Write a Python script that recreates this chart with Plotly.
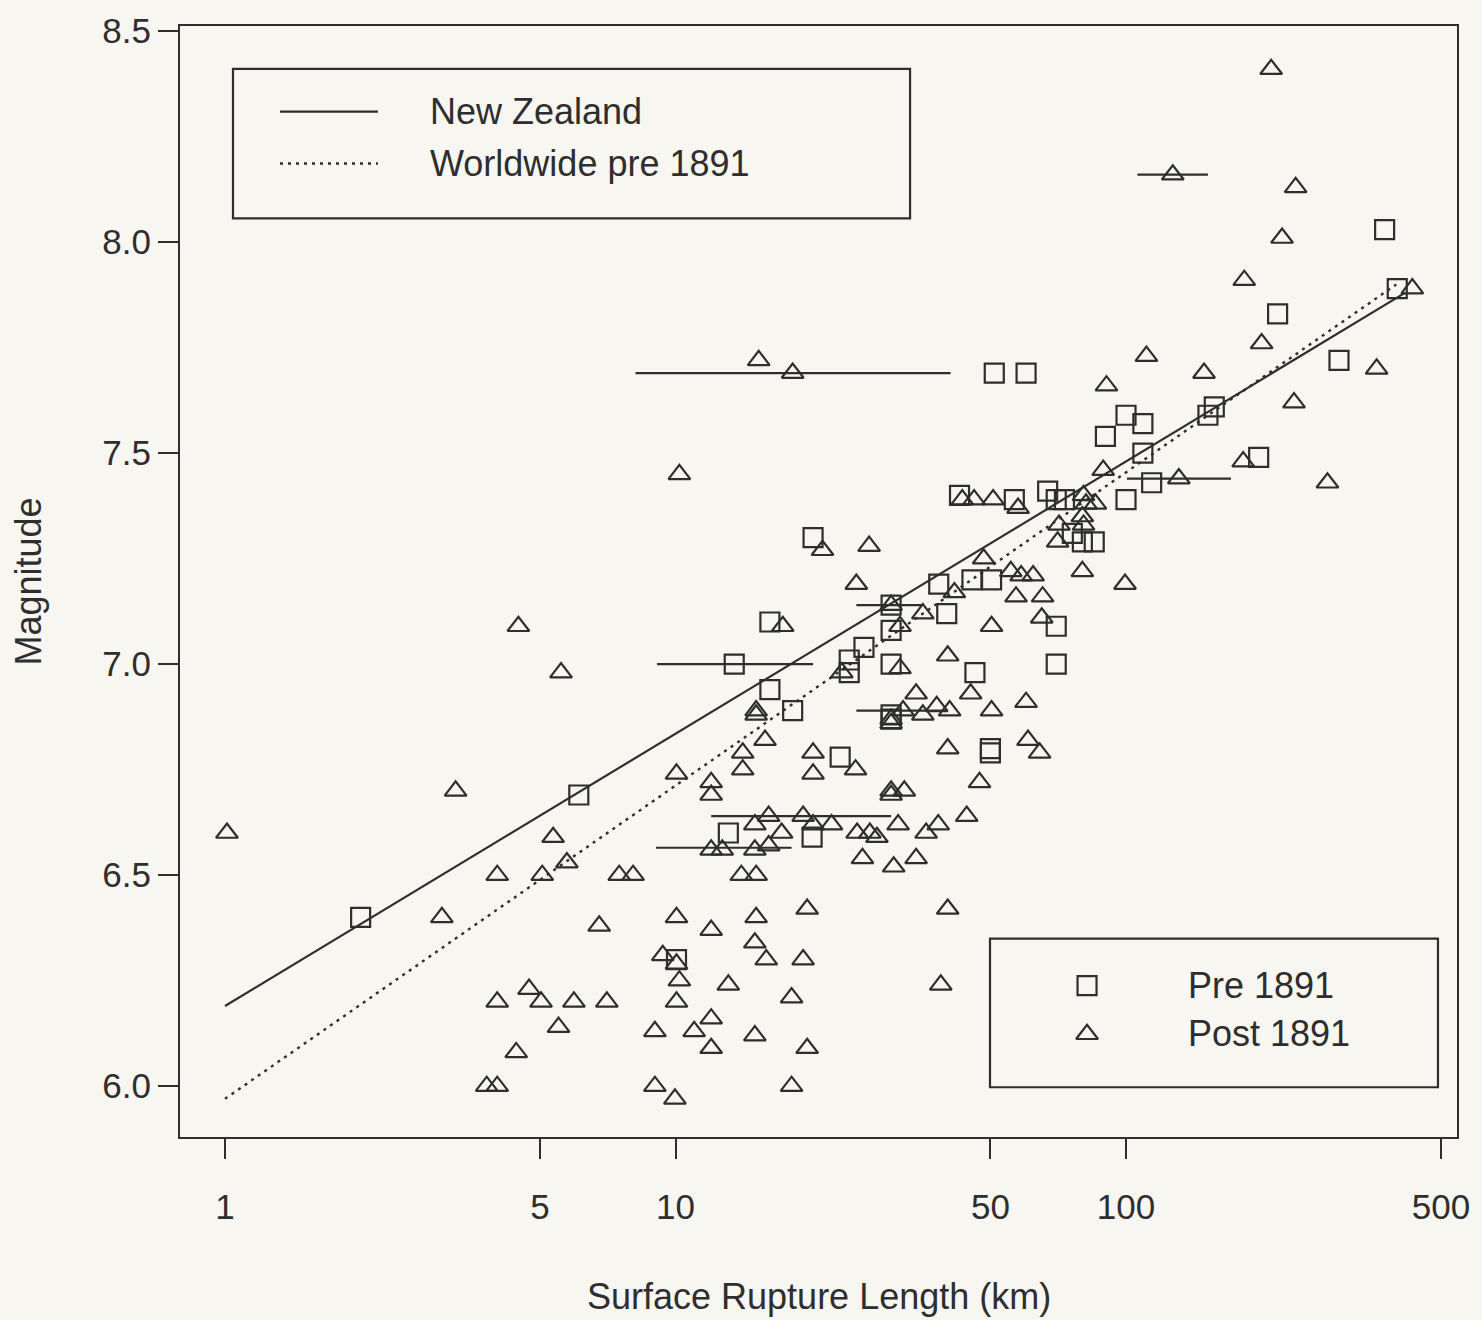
import plotly.graph_objects as go

# ---------------- data ----------------
# Pre 1891 events (squares): surface rupture length (km), magnitude
pre_length = [2.0, 6.1, 13.5, 13.1, 16.2, 16.2, 18.2, 20.2, 20.1, 23.2,
              24.3, 24.3, 26.2, 30.1, 30.1, 30.1, 30.1, 30.1, 38.4, 40.0,
              42.7, 45.5, 50.3, 46.2, 50.0, 50.0, 51.0, 60.0, 56.5, 67.0,
              70.0, 73.0, 76.0, 80.0, 85.0, 70.0, 70.0, 90.0, 100.0, 109.0,
              109.0, 100.0, 114.0, 152.0, 157.0, 197.0, 217.0, 297.0, 375.0, 400.0,
              10.05]
pre_mag = [6.40, 6.69, 7.00, 6.60, 7.10, 6.94, 6.89, 7.30, 6.59, 6.78,
           7.01, 6.98, 7.04, 7.14, 7.08, 7.00, 6.88, 6.87, 7.19, 7.12,
           7.40, 7.20, 7.20, 6.98, 6.80, 6.79, 7.69, 7.69, 7.39, 7.41,
           7.39, 7.39, 7.31, 7.29, 7.29, 7.09, 7.00, 7.54, 7.59, 7.57,
           7.50, 7.39, 7.43, 7.59, 7.61, 7.49, 7.83, 7.72, 8.03, 7.89,
           6.30]

# Post 1891 events (triangles)
post_length = [210, 127, 238, 222, 183, 432, 200, 360, 236, 111,
               149, 90.5, 182, 89, 131, 280, 15.3, 18.2, 10.2, 43.3,
               46.0, 50.7, 57.6, 80.5, 81.5, 85.5, 80.0, 80.5, 71.0, 70.5,
               80.0, 99.5, 48.3, 55.5, 58.5, 62.2, 41.6, 57.0, 65.3, 65.0,
               50.3, 35.4, 31.5, 40.2, 31.5, 45.2, 60.0, 50.3, 60.6, 64.3,
               40.2, 47.3, 44.3, 40.2, 38.8, 17.3, 21.2, 26.9, 25.2, 23.4,
               30.1, 15.1, 15.1, 15.8, 14.1, 14.1, 20.2, 20.2, 25.1, 12.0,
               12.0, 10.05, 30.1, 30.1, 32.0, 34.2, 35.4, 38.0, 40.6, 30.1,
               30.1, 32.2, 15.0, 16.1, 17.2, 19.2, 20.2, 22.2, 25.3, 27.0,
               28.0, 31.2, 36.0, 38.3, 26.0, 30.5, 34.2, 19.6, 19.2, 18.1,
               19.6, 18.1, 3.25, 12.0, 12.7, 15.0, 16.1, 5.35, 5.74, 4.02,
               5.06, 7.5, 8.05, 14.0, 15.1, 3.03, 6.77, 10.05, 12.0, 15.1,
               9.37, 10.05, 15.0, 15.9, 10.2, 13.1, 4.02, 4.73, 5.03, 5.95,
               7.04, 10.05, 5.5, 9.0, 11.0, 12.0, 12.0, 15.0, 4.43, 3.81,
               4.02, 9.0, 9.97, 1.01, 4.48, 5.57]
post_mag = [8.41, 8.16, 8.13, 8.01, 7.91, 7.89, 7.76, 7.70, 7.62, 7.73,
            7.69, 7.66, 7.48, 7.46, 7.44, 7.43, 7.72, 7.69, 7.45, 7.39,
            7.39, 7.39, 7.37, 7.40, 7.38, 7.38, 7.35, 7.33, 7.33, 7.29,
            7.22, 7.19, 7.25, 7.22, 7.21, 7.21, 7.17, 7.16, 7.16, 7.11,
            7.09, 7.12, 7.09, 7.02, 6.99, 6.93, 6.91, 6.89, 6.82, 6.79,
            6.80, 6.72, 6.64, 6.42, 6.24, 7.09, 7.27, 7.28, 7.19, 6.98,
            7.14, 6.89, 6.88, 6.82, 6.79, 6.75, 6.79, 6.74, 6.75, 6.72,
            6.69, 6.74, 6.87, 6.86, 6.89, 6.93, 6.88, 6.90, 6.89, 6.70,
            6.69, 6.70, 6.62, 6.64, 6.60, 6.64, 6.62, 6.62, 6.60, 6.60,
            6.59, 6.62, 6.60, 6.62, 6.54, 6.52, 6.54, 6.42, 6.30, 6.21,
            6.09, 6.00, 6.70, 6.56, 6.56, 6.56, 6.57, 6.59, 6.53, 6.50,
            6.50, 6.50, 6.50, 6.50, 6.50, 6.40, 6.38, 6.40, 6.37, 6.40,
            6.31, 6.29, 6.34, 6.30, 6.25, 6.24, 6.20, 6.23, 6.20, 6.20,
            6.20, 6.20, 6.14, 6.13, 6.13, 6.16, 6.09, 6.12, 6.08, 6.00,
            6.00, 6.00, 5.97, 6.60, 7.09, 6.98]

# Horizontal range bars (length uncertainty)
bar_mag = [7.69, 8.16, 7.44, 7.14, 7.00, 6.89, 6.64, 6.565]
bar_lo = [8.15, 106.0, 100.5, 25.2, 9.1, 25.2, 12.0, 9.05]
bar_hi = [40.8, 152.0, 171.0, 35.3, 20.2, 40.0, 30.1, 18.1]

# Regression lines (end points)
nz_length = [1.0, 416.0]
nz_mag = [6.19, 7.88]
ww_length = [1.0, 398.0]
ww_mag = [5.97, 7.90]

x_ticks = [1, 5, 10, 50, 100, 500]
x_tick_text = ["1", "5", "10", "50", "100", "500"]
y_ticks = [6.0, 6.5, 7.0, 7.5, 8.0, 8.5]
y_tick_text = ["6.0", "6.5", "7.0", "7.5", "8.0", "8.5"]

line_labels = ["New Zealand", "Worldwide pre 1891"]
marker_labels = ["Pre 1891", "Post 1891"]

# ---------------- styling ----------------
INK = "#2e2e2e"
BG = "#f7f6f1"
FONT = "Liberation Sans, Arial, Helvetica, sans-serif"
DOT = "3px,5px"
LW = 2.2

fig = go.Figure()

bx, by = [], []
for lo, hi, m in zip(bar_lo, bar_hi, bar_mag):
    bx += [lo, hi, None]
    by += [m, m, None]
fig.add_trace(go.Scatter(x=bx, y=by, mode="lines",
                         line=dict(color=INK, width=LW), hoverinfo="skip"))

fig.add_trace(go.Scatter(x=nz_length, y=nz_mag, mode="lines",
                         line=dict(color=INK, width=LW)))
fig.add_trace(go.Scatter(x=ww_length, y=ww_mag, mode="lines",
                         line=dict(color=INK, width=2.4, dash=DOT)))

SQ = dict(symbol="square-open", size=19, color=INK, line=dict(width=LW, color=INK))
TR = dict(symbol="triangle-up-open", size=19, color=INK, line=dict(width=LW, color=INK))

fig.add_trace(go.Scatter(x=pre_length, y=pre_mag, mode="markers", marker=SQ))
fig.add_trace(go.Scatter(x=post_length, y=post_mag, mode="markers", marker=TR))

# ---- legend items drawn on an overlay axis spanning the plot area ----
fig.add_trace(go.Scatter(x=[0.0783, 0.1550], y=[0.9229, 0.9229], mode="lines",
                         line=dict(color=INK, width=LW), xaxis="x2", yaxis="y2"))
fig.add_trace(go.Scatter(x=[0.0783, 0.1550], y=[0.8762, 0.8762], mode="lines",
                         line=dict(color=INK, width=2.4, dash=DOT), xaxis="x2", yaxis="y2"))
fig.add_trace(go.Scatter(x=[0.7103], y=[0.1363], mode="markers", marker=SQ,
                         xaxis="x2", yaxis="y2"))
fig.add_trace(go.Scatter(x=[0.7103], y=[0.0925], mode="markers", marker=TR,
                         xaxis="x2", yaxis="y2"))

annotations = [
    dict(x=0.1942, y=0.9229, text=line_labels[0]),
    dict(x=0.1942, y=0.8762, text=line_labels[1]),
    dict(x=0.7878, y=0.1363, text=marker_labels[0]),
    dict(x=0.7878, y=0.0933, text=marker_labels[1]),
]
for a in annotations:
    a.update(xref="paper", yref="paper", xanchor="left", yanchor="middle",
             showarrow=False, font=dict(family=FONT, size=36, color=INK))

annotations.append(dict(x=0.5, y=-0.1435, xref="paper", yref="paper",
                        text="Surface Rupture Length (km)", showarrow=False,
                        xanchor="center", yanchor="middle",
                        font=dict(family=FONT, size=36, color=INK)))
annotations.append(dict(x=-0.119, y=0.5, xref="paper", yref="paper",
                        text="Magnitude", showarrow=False, textangle=-90,
                        xanchor="center", yanchor="middle",
                        font=dict(family=FONT, size=36, color=INK)))

shapes = [
    dict(type="rect", xref="paper", yref="paper", x0=0.0415, x1=0.5717,
         y0=0.8269, y1=0.9614, line=dict(color=INK, width=LW)),
    dict(type="rect", xref="paper", yref="paper", x0=0.6343, x1=0.9851,
         y0=0.0448, y1=0.1785, line=dict(color=INK, width=LW)),
]

axis_common = dict(showgrid=False, zeroline=False, showline=True, linecolor=INK,
                   linewidth=LW, mirror=True, ticks="outside", ticklen=20,
                   tickwidth=LW, tickcolor=INK,
                   tickfont=dict(family=FONT, size=35, color=INK))

fig.update_layout(
    width=1482, height=1320,
    margin=dict(l=180, r=25, t=20, b=183),
    paper_bgcolor=BG, plot_bgcolor=BG,
    showlegend=False,
    xaxis=dict(type="log", range=[-0.0999, 2.7347], tickmode="array",
               tickvals=x_ticks, ticktext=x_tick_text, ticklabelstandoff=18,
               **axis_common),
    yaxis=dict(range=[5.8796, 8.5124], tickmode="array",
               tickvals=y_ticks, ticktext=y_tick_text, **axis_common),
    xaxis2=dict(overlaying="x", range=[0, 1], visible=False, domain=[0, 1]),
    yaxis2=dict(overlaying="y", range=[0, 1], visible=False, domain=[0, 1]),
    annotations=annotations,
    shapes=shapes,
)

fig.write_html("out.html")
